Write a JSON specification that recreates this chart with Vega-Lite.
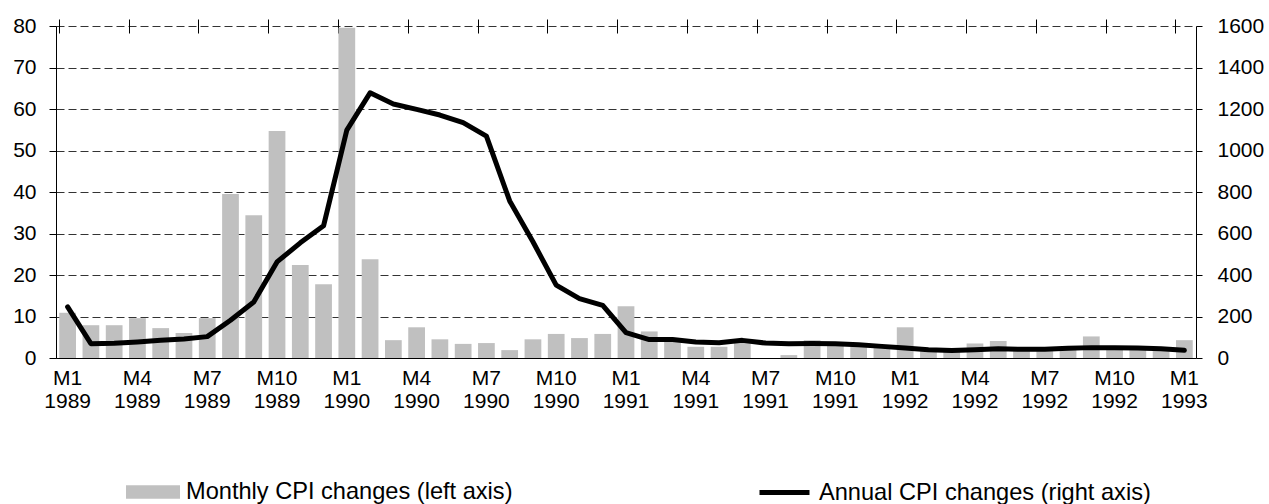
{
  "$schema": "https://vega.github.io/schema/vega-lite/v6.json",
  "width": 1140,
  "height": 332,
  "autosize": "none",
  "padding": {"left": 56, "top": 26, "right": 73, "bottom": 146},
  "background": "white",
  "config": {
    "view": {"stroke": null},
    "font": "Liberation Sans"
  },
  "data": {
    "values": [
      {"m": "M1 1989", "mon": 10.9, "ann": 246},
      {"m": "M2 1989", "mon": 7.9, "ann": 69},
      {"m": "M3 1989", "mon": 7.9, "ann": 71},
      {"m": "M4 1989", "mon": 9.6, "ann": 77},
      {"m": "M5 1989", "mon": 7.2, "ann": 85},
      {"m": "M6 1989", "mon": 6.0, "ann": 92},
      {"m": "M7 1989", "mon": 9.6, "ann": 103},
      {"m": "M8 1989", "mon": 39.5, "ann": 182},
      {"m": "M9 1989", "mon": 34.4, "ann": 270},
      {"m": "M10 1989", "mon": 54.7, "ann": 463},
      {"m": "M11 1989", "mon": 22.4, "ann": 555},
      {"m": "M12 1989", "mon": 17.8, "ann": 637},
      {"m": "M1 1990", "mon": 79.6, "ann": 1098},
      {"m": "M2 1990", "mon": 23.8, "ann": 1278},
      {"m": "M3 1990", "mon": 4.3, "ann": 1224},
      {"m": "M4 1990", "mon": 7.4, "ann": 1198},
      {"m": "M5 1990", "mon": 4.5, "ann": 1171},
      {"m": "M6 1990", "mon": 3.4, "ann": 1134},
      {"m": "M7 1990", "mon": 3.6, "ann": 1069},
      {"m": "M8 1990", "mon": 1.9, "ann": 757},
      {"m": "M9 1990", "mon": 4.5, "ann": 560},
      {"m": "M10 1990", "mon": 5.8, "ann": 351},
      {"m": "M11 1990", "mon": 4.8, "ann": 286},
      {"m": "M12 1990", "mon": 5.8, "ann": 254},
      {"m": "M1 1991", "mon": 12.5, "ann": 122},
      {"m": "M2 1991", "mon": 6.4, "ann": 89},
      {"m": "M3 1991", "mon": 4.5, "ann": 89},
      {"m": "M4 1991", "mon": 2.7, "ann": 77},
      {"m": "M5 1991", "mon": 2.7, "ann": 74},
      {"m": "M6 1991", "mon": 4.4, "ann": 85},
      {"m": "M7 1991", "mon": 0.0, "ann": 72},
      {"m": "M8 1991", "mon": 0.7, "ann": 69},
      {"m": "M9 1991", "mon": 4.3, "ann": 70},
      {"m": "M10 1991", "mon": 3.3, "ann": 69},
      {"m": "M11 1991", "mon": 3.0, "ann": 64},
      {"m": "M12 1991", "mon": 2.4, "ann": 56},
      {"m": "M1 1992", "mon": 7.4, "ann": 48},
      {"m": "M2 1992", "mon": 2.2, "ann": 40},
      {"m": "M3 1992", "mon": 1.8, "ann": 36},
      {"m": "M4 1992", "mon": 3.5, "ann": 40},
      {"m": "M5 1992", "mon": 4.1, "ann": 44},
      {"m": "M6 1992", "mon": 2.3, "ann": 42},
      {"m": "M7 1992", "mon": 2.0, "ann": 42},
      {"m": "M8 1992", "mon": 2.3, "ann": 47},
      {"m": "M9 1992", "mon": 5.2, "ann": 50},
      {"m": "M10 1992", "mon": 2.4, "ann": 50},
      {"m": "M11 1992", "mon": 2.3, "ann": 48},
      {"m": "M12 1992", "mon": 1.9, "ann": 45},
      {"m": "M1 1993", "mon": 4.3, "ann": 37}
    ]
  },
  "layer": [
    {
      "mark": {"type": "bar"},
      "encoding": {
        "x": {
          "field": "m",
          "type": "ordinal",
          "sort": null,
          "scale": {"paddingInner": 0.28, "paddingOuter": 0.14},
          "axis": {
            "title": null,
            "values": ["M1 1989", "M4 1989", "M7 1989", "M10 1989", "M1 1990", "M4 1990", "M7 1990", "M10 1990", "M1 1991", "M4 1991", "M7 1991", "M10 1991", "M1 1992", "M4 1992", "M7 1992", "M10 1992", "M1 1993"],
            "labelExpr": "split(datum.value, ' ')",
            "labelAngle": 0,
            "ticks": false,
            "tickSize": 0,
            "domain": true,
            "domainColor": "#000",
            "domainWidth": 1,
            "grid": false,
            "labelFont": "Liberation Sans",
            "labelFontSize": 21,
            "labelLineHeight": 23,
            "labelPadding": 9,
            "labelColor": "#000"
          }
        },
        "y": {
          "field": "mon",
          "type": "quantitative",
          "scale": {"domain": [0, 80], "nice": false},
          "axis": {
            "title": null,
            "orient": "left",
            "values": [0, 10, 20, 30, 40, 50, 60, 70, 80],
            "grid": true,
            "gridColor": "#333",
            "gridDash": [8, 4],
            "gridWidth": 1,
            "domainColor": "#000",
            "tickColor": "#000",
            "tickSize": 7,
            "labelPadding": 13,
            "labelFont": "Liberation Sans",
            "labelFontSize": 21,
            "labelColor": "#000"
          }
        },
        "color": {
          "datum": "Monthly CPI changes (left axis)",
          "scale": {"range": ["#c0c0c0"]},
          "legend": {
            "title": null,
            "orient": "none",
            "legendX": 70,
            "legendY": 439,
            "padding": 0,
            "symbolType": "M-1,-0.25H1V0.25H-1Z",
            "symbolSize": 2916,
            "symbolStrokeWidth": 0,
            "symbolOpacity": 1,
            "labelFont": "Liberation Sans",
            "labelFontSize": 23.6,
            "labelOffset": 6,
            "labelColor": "#000",
            "labelLimit": 600
          }
        }
      }
    },
    {
      "mark": {"type": "line", "strokeWidth": 5, "strokeCap": "round", "strokeJoin": "round"},
      "encoding": {
        "x": {
          "field": "m",
          "type": "ordinal",
          "sort": null,
          "axis": {
            "title": null,
            "values": ["M1 1989", "M4 1989", "M7 1989", "M10 1989", "M1 1990", "M4 1990", "M7 1990", "M10 1990", "M1 1991", "M4 1991", "M7 1991", "M10 1991", "M1 1992", "M4 1992", "M7 1992", "M10 1992", "M1 1993"],
            "bandPosition": 0,
            "labels": false,
            "ticks": true,
            "tickSize": 14,
            "tickColor": "#000",
            "offset": -7,
            "domain": false,
            "grid": false
          }
        },
        "y": {
          "field": "ann",
          "type": "quantitative",
          "scale": {"domain": [0, 1600], "nice": false},
          "axis": {
            "title": null,
            "orient": "right",
            "values": [0, 200, 400, 600, 800, 1000, 1200, 1400, 1600],
            "format": "d",
            "grid": false,
            "domainColor": "#000",
            "tickColor": "#000",
            "tickSize": 6,
            "labelPadding": 15,
            "labelFont": "Liberation Sans",
            "labelFontSize": 21,
            "labelColor": "#000"
          }
        },
        "stroke": {
          "datum": "Annual CPI changes (right axis)",
          "scale": {"range": ["#000"]},
          "legend": {
            "title": null,
            "orient": "none",
            "legendX": 701,
            "legendY": 439,
            "padding": 0,
            "symbolType": "stroke",
            "symbolSize": 2500,
            "symbolStrokeWidth": 5,
            "labelFont": "Liberation Sans",
            "labelFontSize": 23.6,
            "labelOffset": 7,
            "labelColor": "#000",
            "labelLimit": 600
          }
        }
      }
    }
  ],
  "resolve": {"scale": {"y": "independent"}, "axis": {"x": "independent"}}
}
